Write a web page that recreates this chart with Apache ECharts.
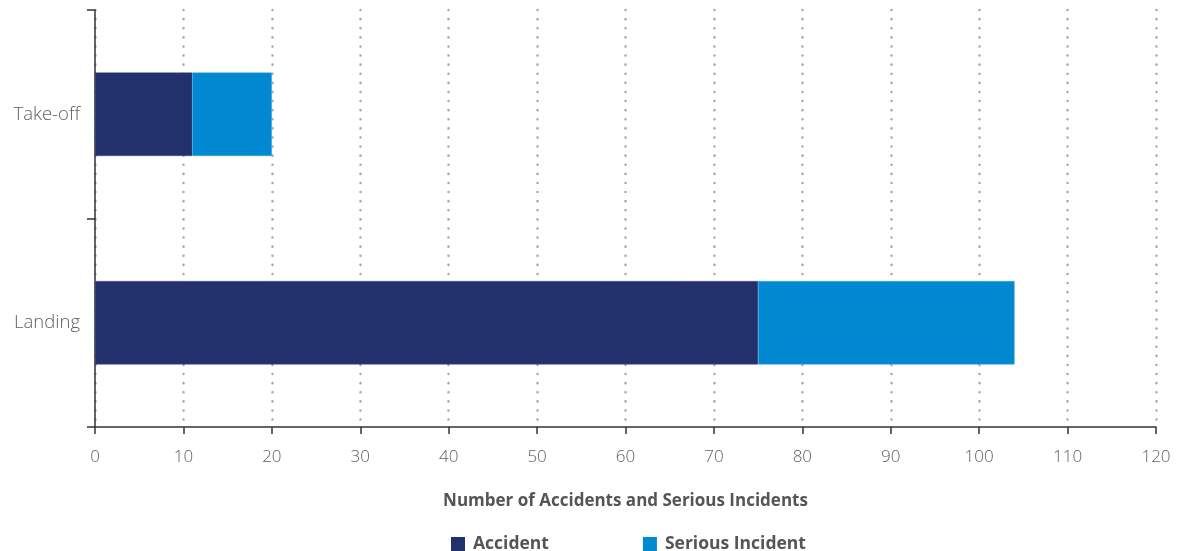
<!DOCTYPE html>
<html>
<head>
<meta charset="utf-8">
<script src="https://cdn.jsdelivr.net/npm/echarts@6/dist/echarts.min.js"></script>
<style>html,body{margin:0;padding:0;background:#fff}#c{width:1178px;height:551px}</style>
</head>
<body>
<div id="c"></div>
<script>
const categories = ['Landing', 'Take-off'];
const accident = [75, 11];
const seriousIncident = [29, 9];
const seriesNames = ['Accident', 'Serious Incident'];
const xTicks = { min: 0, max: 120, interval: 10 };
const xAxisTitle = 'Number of Accidents and Serious Incidents';

const chart = echarts.init(document.getElementById('c'), null, { renderer: 'canvas' });
const font = '"Open Sans", "Noto Sans", sans-serif';
chart.setOption({
  animation: false,
  grid: { left: 95, right: 22, top: 10, bottom: 124, containLabel: false },
  legend: {
    top: 530, left: 446,
    itemWidth: 14, itemHeight: 14, itemGap: 94,
    icon: 'rect',
    itemStyle: { borderWidth: 0 },
    textStyle: { fontFamily: font, fontSize: 17.5, fontWeight: 'bold', color: '#555', padding: [0, 0, 0, 3] },
    data: seriesNames
  },
  xAxis: {
    type: 'value', min: xTicks.min, max: xTicks.max, interval: xTicks.interval,
    name: xAxisTitle, nameLocation: 'middle', nameGap: 66,
    nameTextStyle: { fontFamily: font, fontSize: 17, fontWeight: 'bold', color: '#555' },
    axisLine: { show: true, lineStyle: { color: '#333', width: 1.5 } },
    axisTick: { show: true, length: 7, lineStyle: { color: '#333', width: 1.5 } },
    axisLabel: { fontFamily: font, fontSize: 17, fontWeight: 300, color: '#606060', margin: 22 },
    splitLine: { show: true, lineStyle: { color: '#a8a8ac', width: 2.5, type: [0.1, 9], cap: 'round' } }
  },
  yAxis: {
    type: 'category', data: categories,
    axisLine: { show: true, lineStyle: { color: '#333', width: 1.5 } },
    axisTick: { show: true, length: 8, lineStyle: { color: '#333', width: 1.5 } },
    axisLabel: { fontFamily: font, fontSize: 18.5, fontWeight: 300, color: '#606060', margin: 15, padding: [6, 0, 0, 0] },
    splitLine: { show: false }
  },
  series: [
    {
      name: seriesNames[0], type: 'bar', stack: 'total', data: accident,
      barWidth: '40%',
      itemStyle: { color: '#22316b', borderColor: '#3d4d86', borderWidth: 0.5 }
    },
    {
      name: seriesNames[1], type: 'bar', stack: 'total', data: seriousIncident,
      barWidth: '40%',
      itemStyle: { color: '#0088d1', borderColor: '#3aa0e0', borderWidth: 0.5 }
    }
  ]
});
</script>
</body>
</html>
